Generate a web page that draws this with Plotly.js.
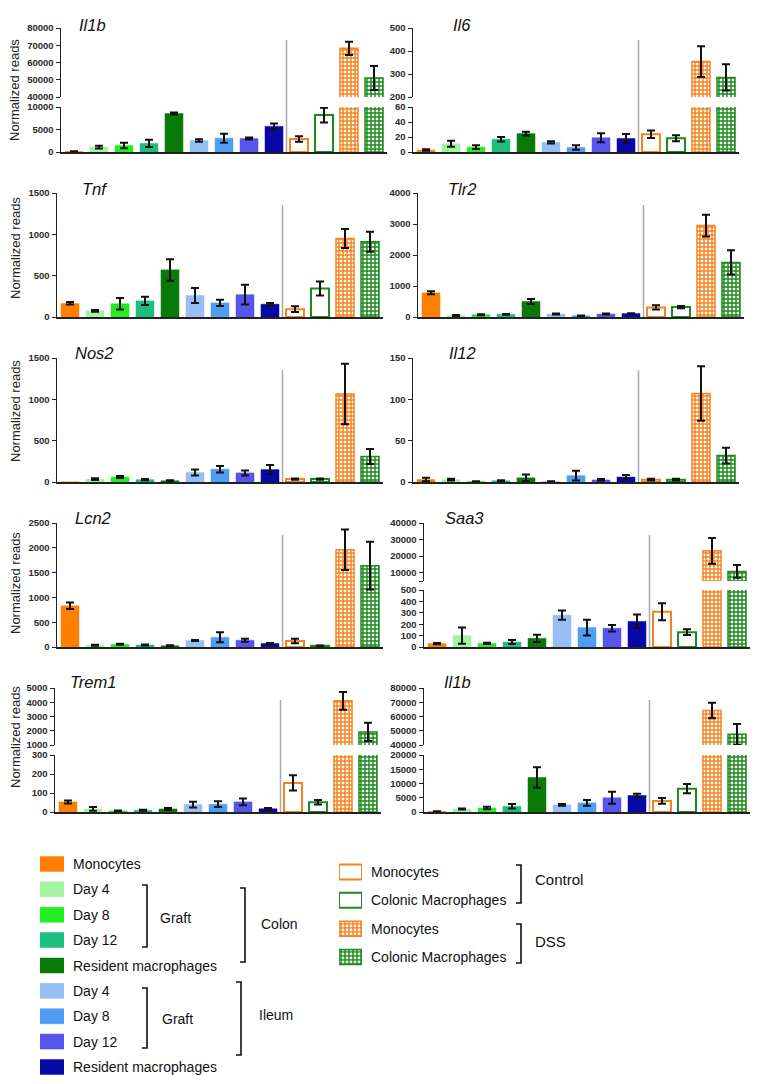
<!DOCTYPE html>
<html>
<head>
<meta charset="utf-8">
<script src="https://cdn.plot.ly/plotly-3.0.1.min.js"></script>
<style>
body { margin: 0; background: #fff; }
#chart { width: 762px; height: 1084px; }
</style>
</head>
<body>
<div id="chart"></div>
<script>
// bar order, left to right, same in every panel
var groups = ['Mono', 'C-D4', 'C-D8', 'C-D12', 'C-Res', 'I-D4', 'I-D8', 'I-D12', 'I-Res',
              'Ctrl-Mono', 'Ctrl-Mac', 'DSS-Mono', 'DSS-Mac'];

// normalized reads (mean) and error
var il1bA    = [100, 1100, 1450, 1900, 8550, 2550, 3070, 3000, 5700, 2900, 8200, 68200, 51000];
var il1bAErr = [50, 300, 600, 800, 200, 300, 1000, 200, 650, 600, 1650, 3900, 7000];
var il6      = [2.6, 11, 6.5, 17, 24.5, 12.7, 6, 19, 18, 23.6, 18.4, 354, 285];
var il6Err   = [1, 4, 2.5, 3, 2.5, 1.5, 3, 6, 6, 5, 4, 67, 57];
var tnf      = [165, 75, 160, 195, 570, 260, 170, 270, 155, 95, 345, 950, 910];
var tnfErr   = [15, 10, 70, 50, 130, 90, 38, 120, 15, 35, 85, 115, 120];
var tlr2     = [780, 50, 75, 85, 500, 95, 40, 95, 110, 310, 320, 2950, 1760];
var tlr2Err  = [50, 15, 15, 15, 80, 15, 10, 15, 15, 70, 35, 350, 390];
var nos2     = [0, 35, 60, 28, 15, 115, 155, 110, 150, 35, 35, 1065, 308];
var nos2Err  = [null, 10, 12, 8, 5, 35, 40, 30, 55, 8, 8, 365, 90];
var il12     = [3, 2.8, 0.5, 1.5, 5, 0.5, 7.7, 2.5, 6, 2.8, 2.8, 107, 32];
var il12Err  = [2, 1, 0.3, 0.5, 4, 0.3, 6, 1, 2.5, 1, 1, 33, 9.5];
var lcn2     = [830, 35, 55, 40, 25, 130, 195, 135, 70, 120, 25, 1960, 1640];
var lcn2Err  = [65, 10, 12, 10, 8, 10, 100, 30, 12, 45, 5, 410, 480];
var saa3     = [30, 100, 32, 44, 76, 280, 170, 165, 224, 309, 130, 23200, 10800];
var saa3Err  = [5, 72, 5, 18, 32, 40, 70, 28, 60, 75, 25, 7800, 3800];
var trem1    = [53, 16, 6, 9, 16, 39, 41, 53, 17, 153, 51, 4100, 1920];
var trem1Err = [8, 10, 2, 3, 5, 15, 15, 18, 4, 40, 12, 620, 635];
var il1bB    = [200, 1050, 1400, 2000, 12100, 2500, 3200, 5000, 5800, 3900, 8200, 64200, 47500];
var il1bBErr = [50, 200, 400, 800, 3600, 300, 1000, 2100, 600, 1000, 1600, 5500, 7300];

// legend text
var colonLabels = ['Monocytes', 'Day 4', 'Day 8', 'Day 12', 'Resident macrophages',
                   'Day 4', 'Day 8', 'Day 12', 'Resident macrophages'];
var modelLabels = ['Monocytes', 'Colonic Macrophages', 'Monocytes', 'Colonic Macrophages'];

// bar styles
var fills = ['#ff8000', '#a3f3a3', '#22ee22', '#1cbf80', '#087a08', '#96bff5', '#4f9ef5', '#5656ee', '#0808a8',
             '#ffffff', '#ffffff', '#ffffff', '#ffffff'];
var edges = ['#ff8000', '#a3f3a3', '#22ee22', '#1cbf80', '#087a08', '#96bff5', '#4f9ef5', '#5656ee', '#0808a8',
             '#f5831f', '#1c8a1c', '#f5831f', '#1c8a1c'];
var edgeW = [0.5, 0.5, 0.5, 0.5, 0.5, 0.5, 0.5, 0.5, 0.5, 2, 2, 1.5, 1.5];
var hatch = ['', '', '', '', '', '', '', '', '', '', '', '+', '+'];

var W = 762, H = 1084;
function px(x) { return x / W; }
function py(y) { return 1 - y / H; }

// panel geometry in pixels
var panels = [
  {gene: 'Il1b', vals: il1bA, errs: il1bAErr, x0: 61, tx: 77, ty: 25, lab: 90,
   lo: [107, 152], rlo: [0, 10000], tlo: [0, 5000, 10000],
   hi: [28, 97], rhi: [40000, 80000], thi: [40000, 50000, 60000, 70000, 80000]},
  {gene: 'Il6', vals: il6, errs: il6Err, x0: 413, tx: 451, ty: 25,
   lo: [107, 152], rlo: [0, 60], tlo: [0, 20, 40, 60],
   hi: [28, 97], rhi: [200, 500], thi: [200, 300, 400, 500]},
  {gene: 'Tnf', vals: tnf, errs: tnfErr, x0: 57, tx: 80, ty: 189, lab: 248,
   lo: [193, 317], rlo: [0, 1500], tlo: [0, 500, 1000, 1500]},
  {gene: 'Tlr2', vals: tlr2, errs: tlr2Err, x0: 418, tx: 446, ty: 189,
   lo: [193, 317], rlo: [0, 4000], tlo: [0, 1000, 2000, 3000, 4000]},
  {gene: 'Nos2', vals: nos2, errs: nos2Err, x0: 57, tx: 73, ty: 353, lab: 411,
   lo: [358, 482], rlo: [0, 1500], tlo: [0, 500, 1000, 1500]},
  {gene: 'Il12', vals: il12, errs: il12Err, x0: 413, tx: 447, ty: 353,
   lo: [358, 482], rlo: [0, 150], tlo: [0, 50, 100, 150]},
  {gene: 'Lcn2', vals: lcn2, errs: lcn2Err, x0: 57, tx: 73, ty: 518, lab: 583,
   lo: [523, 647], rlo: [0, 2500], tlo: [0, 500, 1000, 1500, 2000, 2500]},
  {gene: 'Saa3', vals: saa3, errs: saa3Err, x0: 424, tx: 443, ty: 518,
   lo: [590, 647], rlo: [0, 500], tlo: [0, 100, 200, 300, 400, 500],
   hi: [523, 581], rhi: [5000, 40000], thi: [5000, 10000, 20000, 30000, 40000], hideFirst: true},
  {gene: 'Trem1', vals: trem1, errs: trem1Err, x0: 55, tx: 68, ty: 682, lab: 737,
   lo: [755, 812], rlo: [0, 300], tlo: [0, 100, 200, 300],
   hi: [688, 745], rhi: [1000, 5000], thi: [1000, 2000, 3000, 4000, 5000]},
  {gene: 'Il1b', vals: il1bB, errs: il1bBErr, x0: 424, tx: 442, ty: 682,
   lo: [755, 812], rlo: [0, 20000], tlo: [0, 5000, 10000, 15000, 20000],
   hi: [688, 745], rhi: [40000, 80000], thi: [40000, 50000, 60000, 70000, 80000]}
];

var layout = {
  width: W, height: H,
  margin: {l: 0, r: 0, t: 0, b: 0},
  paper_bgcolor: '#ffffff',
  plot_bgcolor: 'rgba(0,0,0,0)',
  showlegend: false,
  barmode: 'overlay',
  bargap: 0.28,
  font: {family: 'Liberation Sans, Arial, sans-serif', color: '#111'},
  shapes: [],
  annotations: []
};
var traces = [];
var yCount = 0;

function axName(prefix, n) { return n === 1 ? prefix : prefix + n; }

// style of bar k, one trace per bar so every attribute is a plain value
function barMarker(k) {
  var m = {color: fills[k], line: {color: edges[k], width: edgeW[k]}};
  if (hatch[k]) {
    m.pattern = {shape: hatch[k], fgcolor: edges[k], bgcolor: '#ffffff',
                 size: 4, solidity: 0.6, fillmode: 'replace'};
  }
  return m;
}

panels.forEach(function (p, i) {
  var xn = i + 1;
  var xid = axName('x', xn);
  var segs = [{dom: p.lo, range: p.rlo, ticks: p.tlo, hide: false}];
  if (p.hi) segs.push({dom: p.hi, range: p.rhi, ticks: p.thi, hide: p.hideFirst});
  var lowId = null;

  segs.forEach(function (s) {
    yCount++;
    var yid = axName('y', yCount);
    if (!lowId) lowId = yid;
    layout[axName('yaxis', yCount)] = {
      domain: [py(s.dom[1]), py(s.dom[0])],
      anchor: xid,
      range: s.range,
      tickvals: s.ticks,
      ticktext: s.ticks.map(function (t, k) { return (s.hide && k === 0) ? '' : String(t); }),
      ticks: 'outside', ticklen: 4, tickwidth: 1, tickcolor: '#222',
      showline: true, linecolor: '#222', linewidth: 1.5,
      showgrid: false, zeroline: false, fixedrange: true,
      tickfont: {family: 'Liberation Sans, Arial, sans-serif', size: 9.5, weight: 'bold', color: '#2a2a2a'}
    };
    groups.forEach(function (g, k) {
      traces.push({
        type: 'bar', x: [g], y: [p.vals[k]], xaxis: xid, yaxis: yid,
        marker: barMarker(k),
        error_y: {type: 'data', array: [p.errs[k]], visible: p.errs[k] != null,
                  color: '#111', thickness: 2, width: 4},
        hoverinfo: 'skip'
      });
    });
  });

  layout[axName('xaxis', xn)] = {
    domain: [px(p.x0), px(p.x0 + 326)],
    anchor: lowId,
    type: 'category',
    categoryorder: 'array', categoryarray: groups,
    range: [-0.52, 12.52],
    showticklabels: false, ticks: '',
    showline: true, linecolor: '#222', linewidth: 1.5,
    showgrid: false, zeroline: false, fixedrange: true
  };

  var top = p.hi ? p.hi[0] : p.lo[0];
  // divider between the graft series and the DSS series
  layout.shapes.push({
    type: 'line', xref: xid, yref: 'paper',
    x0: 8.5, x1: 8.5, y0: py(p.lo[1]), y1: py(top + 12),
    line: {color: '#a8a8a8', width: 1.5}
  });

  layout.annotations.push({
    xref: 'paper', yref: 'paper', x: px(p.tx), y: py(p.ty),
    xanchor: 'left', yanchor: 'middle', showarrow: false,
    text: '<i>' + p.gene + '</i>',
    font: {size: 16.5, color: '#111'}
  });

  if (p.lab) {
    layout.annotations.push({
      xref: 'paper', yref: 'paper', x: px(15), y: py(p.lab),
      xanchor: 'center', yanchor: 'middle', showarrow: false, textangle: -90,
      text: 'Normalized reads',
      font: {size: 13, color: '#222'}
    });
  }
});

// legend swatches, drawn as bars so they take the same fills and patterns
function legendBlock(xn, x0, x1, yFirst, yLast, from, to, labels, rowH) {
  var n = to - from;
  var step = (yLast - yFirst) / (n - 1);
  yCount++;
  var yid = axName('y', yCount);
  var xid = axName('x', xn);
  layout[axName('xaxis', xn)] = {
    domain: [px(x0), px(x1)], anchor: yid, range: [0, 1],
    visible: false, fixedrange: true
  };
  layout[axName('yaxis', yCount)] = {
    domain: [py(yLast + step / 2), py(yFirst - step / 2)], anchor: xid,
    range: [n - 0.5, -0.5], visible: false, fixedrange: true
  };
  for (var k = 0; k < n; k++) {
    traces.push({
      type: 'bar', orientation: 'h', x: [1], y: [k], xaxis: xid, yaxis: yid,
      width: rowH / step, marker: barMarker(from + k), hoverinfo: 'skip'
    });
  }
  labels.forEach(function (t, k) {
    layout.annotations.push({
      xref: 'paper', yref: 'paper', x: px(x1 + 7), y: py(yFirst + k * step),
      xanchor: 'left', yanchor: 'middle', showarrow: false,
      text: t, font: {size: 14, color: '#111'}
    });
  });
}
legendBlock(11, 40, 64, 864, 1067, 0, 9, colonLabels, 15);
legendBlock(12, 339, 362, 872, 957, 9, 13, modelLabels, 15);

var brackets = [
  {x: 147, y0: 885, y1: 947, text: 'Graft', lx: 158, ly: 918, size: 14},
  {x: 245, y0: 888, y1: 962, text: 'Colon', lx: 259, ly: 924, size: 14},
  {x: 147, y0: 988, y1: 1048, text: 'Graft', lx: 160, ly: 1019, size: 14},
  {x: 241, y0: 982, y1: 1055, text: 'Ileum', lx: 257, ly: 1015, size: 14},
  {x: 521, y0: 865, y1: 903, text: 'Control', lx: 533, ly: 879, size: 15},
  {x: 521, y0: 924, y1: 963, text: 'DSS', lx: 533, ly: 941, size: 15}
];
brackets.forEach(function (b) {
  layout.shapes.push({
    type: 'path', xref: 'paper', yref: 'paper',
    path: 'M ' + px(b.x - 5) + ',' + py(b.y0) + ' L ' + px(b.x) + ',' + py(b.y0) +
          ' L ' + px(b.x) + ',' + py(b.y1) + ' L ' + px(b.x - 5) + ',' + py(b.y1),
    line: {color: '#111', width: 1.6}
  });
  layout.annotations.push({
    xref: 'paper', yref: 'paper', x: px(b.lx), y: py(b.ly),
    xanchor: 'left', yanchor: 'middle', showarrow: false,
    text: b.text, font: {size: b.size, color: '#111'}
  });
});

Plotly.newPlot('chart', traces, layout, {staticPlot: true});
</script>
</body>
</html>
